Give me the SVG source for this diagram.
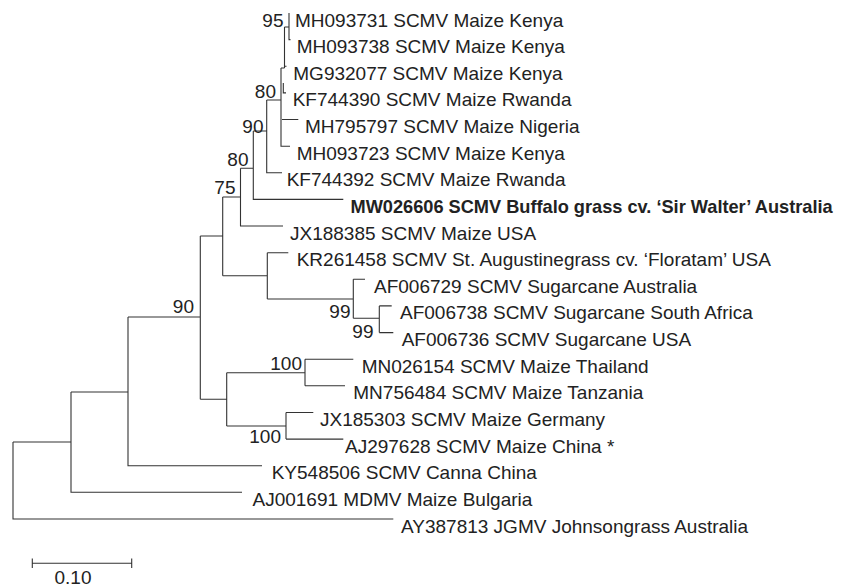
<svg xmlns="http://www.w3.org/2000/svg" width="845" height="588" viewBox="0 0 845 588">
<style>
.br{fill:none;stroke:#333;stroke-width:1.1}
.lb{font-family:"Liberation Sans",Arial,sans-serif;font-size:19px;fill:#222}
.bs{font-family:"Liberation Sans",Arial,sans-serif;font-size:19px;fill:#222;text-anchor:end}
.bold{font-weight:bold;font-size:18.2px}
</style>
<rect width="845" height="588" fill="#fff"/>
<g id="connectors">
<path class="br" d="M13,442V519H393.3"/>
<path class="br" d="M13,442H71M71,392V492.3H242"/>
<path class="br" d="M71,392H128M128,317V465.7H262"/>
<path class="br" d="M128,317H200.3M200.3,236V399.3"/>
<path class="br" d="M200.3,399.3H226.7M226.7,372.7V426"/>
<path class="br" d="M226.7,372.7H305M305,359.2V385.8M305,359.2H353.3M305,385.8H345"/>
<path class="br" d="M226.7,426H286M286,412.5V439.1M286,412.5H313.3M286,439.1H343.3"/>
<path class="br" d="M200.3,236H222.7M222.7,197V275.7"/>
<path class="br" d="M222.7,275.7H267.3M267.3,252.7V299M267.3,252.7H288.3"/>
<path class="br" d="M267.3,299H353.3M353.3,279.3V318.3M353.3,279.3H365"/>
<path class="br" d="M353.3,318.3H379.3M379.3,305.9V332.6M379.3,305.9H391.7M379.3,332.6H393.3"/>
<path class="br" d="M222.7,197H240.5M240.5,168.3V226H283"/>
<path class="br" d="M240.5,168.3H253.3M253.3,131V199.4H343.3"/>
<path class="br" d="M253.3,131H266.7M266.7,100V172.8H282"/>
<path class="br" d="M266.7,100H281M281,68V146.2H290M282,119.5H298.3"/>
<path class="br" d="M281,68H284.5M284.5,27V68M284.5,27H289M289,13V39.6H290.5"/>
<path class="br" d="M284.5,66.3H286.5M283.3,83V92.9H286"/>
<path class="br" d="M32.3,563.3H131.7M32.3,558.5V568M131.7,558.5V568"/>
</g>
<g id="n95"><text class="bs" x="283.5" y="27">95</text></g>
<g id="n80a"><text class="bs" x="276" y="98">80</text></g>
<g id="n90a"><text class="bs" x="263.5" y="133">90</text></g>
<g id="n80b"><text class="bs" x="248.5" y="166">80</text></g>
<g id="n75"><text class="bs" x="235.5" y="194">75</text></g>
<g id="n90b"><text class="bs" x="194" y="313">90</text></g>
<g id="n99a"><text class="bs" x="350.5" y="318">99</text></g>
<g id="n99b"><text class="bs" x="373.5" y="338">99</text></g>
<g id="n100a"><text class="bs" x="302" y="370">100</text></g>
<g id="n100b"><text class="bs" x="281" y="443">100</text></g>
<g id="leaf1"><text class="lb" x="295" y="26.5">MH093731 SCMV Maize Kenya</text></g>
<g id="leaf2"><text class="lb" x="296.7" y="53.1">MH093738 SCMV Maize Kenya</text></g>
<g id="leaf3"><text class="lb" x="293.3" y="79.8">MG932077 SCMV Maize Kenya</text></g>
<g id="leaf4"><text class="lb" x="292.7" y="106.4">KF744390 SCMV Maize Rwanda</text></g>
<g id="leaf5"><text class="lb" x="305" y="133">MH795797 SCMV Maize Nigeria</text></g>
<g id="leaf6"><text class="lb" x="296.7" y="159.7">MH093723 SCMV Maize Kenya</text></g>
<g id="leaf7"><text class="lb" x="286.7" y="186.3">KF744392 SCMV Maize Rwanda</text></g>
<g id="leaf8"><text class="lb bold" x="350.5" y="212.9">MW026606 SCMV Buffalo grass cv. ‘Sir Walter’ Australia</text></g>
<g id="leaf9"><text class="lb" x="290" y="239.5">JX188385 SCMV Maize USA</text></g>
<g id="leaf10"><text class="lb" x="296.7" y="266.2">KR261458 SCMV St. Augustinegrass cv. ‘Floratam’ USA</text></g>
<g id="leaf11"><text class="lb" x="374" y="292.8">AF006729 SCMV Sugarcane Australia</text></g>
<g id="leaf12"><text class="lb" x="400" y="319.4">AF006738 SCMV Sugarcane South Africa</text></g>
<g id="leaf13"><text class="lb" x="401.7" y="346.1">AF006736 SCMV Sugarcane USA</text></g>
<g id="leaf14"><text class="lb" x="361.7" y="372.7">MN026154 SCMV Maize Thailand</text></g>
<g id="leaf15"><text class="lb" x="353.3" y="399.3">MN756484 SCMV Maize Tanzania</text></g>
<g id="leaf16"><text class="lb" x="320" y="426">JX185303 SCMV Maize Germany</text></g>
<g id="leaf17"><text class="lb" x="345" y="452.6">AJ297628 SCMV Maize China *</text></g>
<g id="leaf18"><text class="lb" x="271.7" y="479.2">KY548506 SCMV Canna China</text></g>
<g id="leaf19"><text class="lb" x="252.5" y="505.8">AJ001691 MDMV Maize Bulgaria</text></g>
<g id="leaf20"><text class="lb" x="401" y="532.5">AY387813 JGMV Johnsongrass Australia</text></g>
<g id="scale"><text class="lb" x="73" y="584" text-anchor="middle">0.10</text></g>
</svg>
